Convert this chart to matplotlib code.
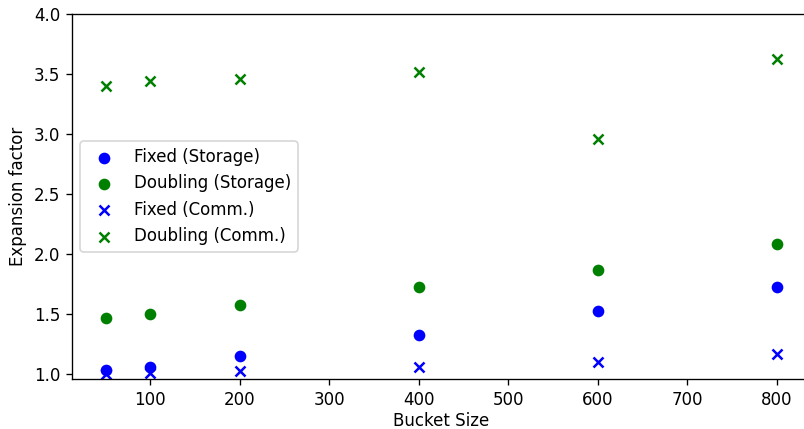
import matplotlib
matplotlib.use("Agg")
import matplotlib.pyplot as plt

bucket_sizes = [50, 100, 200, 400, 600, 800]

fixed_storage = [1.04, 1.065, 1.155, 1.325, 1.525, 1.73]
doubling_storage = [1.465, 1.505, 1.575, 1.725, 1.87, 2.08]
fixed_comm = [1.0, 1.01, 1.03, 1.065, 1.1, 1.165]
doubling_comm = [3.395, 3.435, 3.455, 3.515, 2.96, 3.625]

fig = plt.figure(figsize=(6.7, 3.575), dpi=120)
# the original is cropped on the right, so the axes run a little past the edge
ax = fig.add_axes([0.0896, 0.1154, 0.9185, 0.8531])

ax.scatter(bucket_sizes, fixed_storage, color="blue", marker="o", label="Fixed (Storage)")
ax.scatter(bucket_sizes, doubling_storage, color="green", marker="o", label="Doubling (Storage)")
ax.scatter(bucket_sizes, fixed_comm, color="blue", marker="x", label="Fixed (Comm.)")
ax.scatter(bucket_sizes, doubling_comm, color="green", marker="x", label="Doubling (Comm.)")

ax.set_ylim(0.957, 4.0)
ax.set_xlabel("Bucket Size", labelpad=2)
ax.set_ylabel("Expansion factor")
ax.legend(loc="center left")

plt.savefig("out.png")
